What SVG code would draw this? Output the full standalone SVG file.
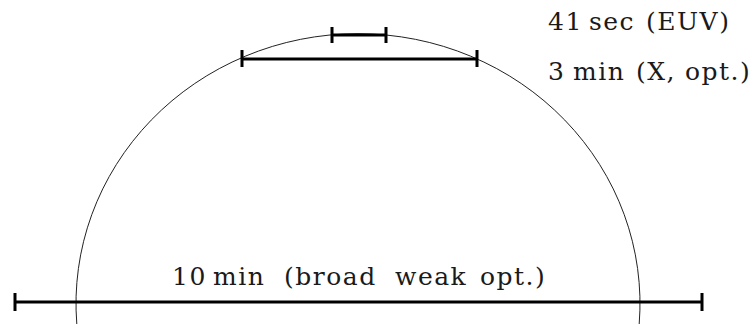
<svg xmlns="http://www.w3.org/2000/svg" width="754" height="324" viewBox="0 0 754 324">
<style>
.lbl{font-family:"DejaVu Serif","Liberation Serif",serif;font-size:25px;fill:#1a1a1a;letter-spacing:1.5px}
.bar{stroke:#000;stroke-width:3;fill:none}
.arc{stroke:#222;stroke-width:1;fill:none}
</style>
<rect width="754" height="324" fill="#fff"/>
<g id="arc"><path class="arc" d="M 76.8 324 A 282 270 0 1 1 639.2 324"/></g>
<g id="connectors">
<g id="bar-euv"><path class="bar" d="M332 35H386M332 27V43M386 27V43"/></g>
<g id="bar-x"><path class="bar" d="M242 59H477M242 50V67M477 50V67"/></g>
<g id="bar-opt"><path class="bar" d="M15 302H702M15 293V311M702 293V311"/></g>
</g>
<g id="label-euv"><text class="lbl" y="30"><tspan x="548">41</tspan> <tspan x="589">sec</tspan> <tspan x="646">(EUV)</tspan></text></g>
<g id="label-x"><text class="lbl" y="80"><tspan x="548">3</tspan> <tspan x="573">min</tspan> <tspan x="636">(X,</tspan> <tspan x="685">opt.)</tspan></text></g>
<g id="label-opt"><text class="lbl" y="285"><tspan x="172">10</tspan> <tspan x="213">min</tspan> <tspan x="284">(broad</tspan> <tspan x="395">weak</tspan> <tspan x="480">opt.)</tspan></text></g>
</svg>
